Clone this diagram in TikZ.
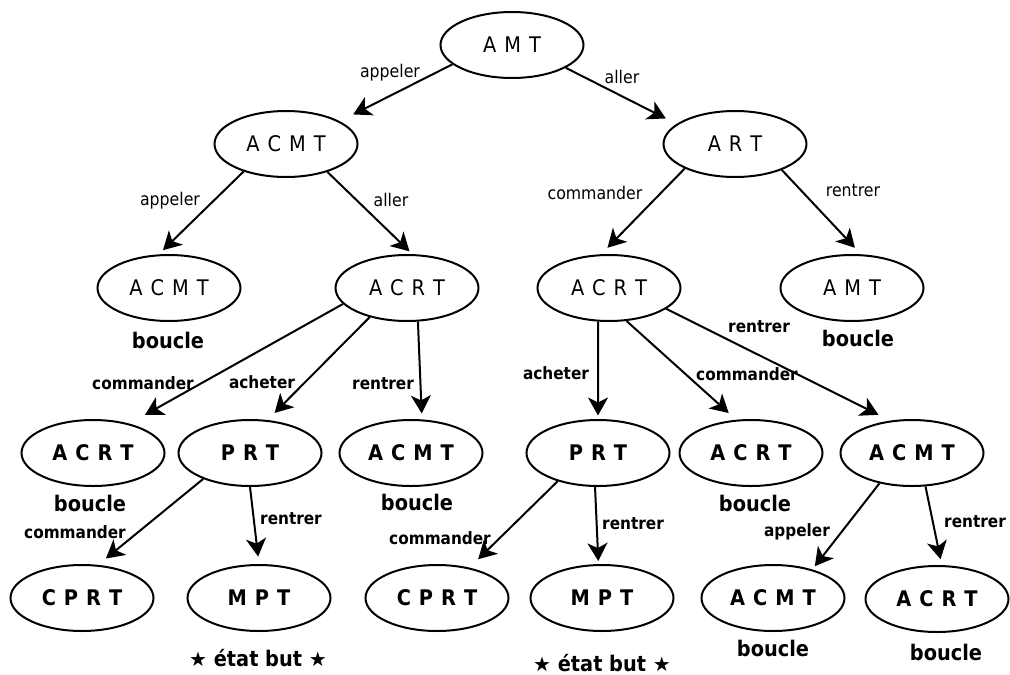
\documentclass[tikz,border=0pt]{standalone}
\usepackage{fontspec}
\setmainfont{DejaVu Sans Condensed}
\newfontfamily\starfont{DejaVu Sans}
\usetikzlibrary{arrows.meta,shapes.geometric}

\tikzset{
  state/.style={draw, line width=2pt, ellipse, minimum width=143pt, minimum height=66pt,
    inner sep=0pt, font=\fontsize{21.5}{24}\selectfont,
    execute at begin node={\spaceskip=8pt\relax}},
  bstate/.style={state, font=\fontsize{21.5}{24}\selectfont\bfseries},
  lab/.style={inner sep=0pt, font=\fontsize{17.5}{20}\selectfont},
  blab/.style={inner sep=0pt, font=\fontsize{17}{20}\selectfont\bfseries},
  note/.style={inner sep=0pt, font=\fontsize{21.5}{24}\selectfont\bfseries},
  edge/.style={line width=2pt, -{Stealth[length=18pt,width=20pt,inset=5pt]}},
}
\newcommand\goalstar{{\starfont\fontsize{20}{22}\selectfont ★}}

\begin{document}
\begin{tikzpicture}[x=1pt, y=-1pt]
\useasboundingbox (0,0) rectangle (1010,675);

% search tree states
\node[state]  (n0)  at (512,45)  {A M T};
\node[state]  (n1)  at (286,144) {A C M T};
\node[state]  (n2)  at (735,144) {A R T};
\node[state]  (n3)  at (169,288) {A C M T};
\node[state]  (n4)  at (407,288) {A C R T};
\node[state]  (n5)  at (609,288) {A C R T};
\node[state]  (n6)  at (852,288) {A M T};
\node[bstate] (n7)  at (93,453)  {A C R T};
\node[bstate] (n8)  at (250,453) {P R T};
\node[bstate] (n9)  at (411,453) {A C M T};
\node[bstate] (n10) at (598,453) {P R T};
\node[bstate] (n11) at (751,453) {A C R T};
\node[bstate] (n12) at (912,453) {A C M T};
\node[bstate] (n13) at (82,598)  {C P R T};
\node[bstate] (n14) at (259,598) {M P T};
\node[bstate] (n15) at (437,598) {C P R T};
\node[bstate] (n16) at (602,598) {M P T};
\node[bstate] (n17) at (773,598) {A C M T};
\node[bstate] (n18) at (937,599) {A C R T};

% notes under the leaves
\node[note] (b3)  at (168,340) {boucle};
\node[note] (b6)  at (858,338) {boucle};
\node[note] (b7)  at (90,503)  {boucle};
\node[note] (b9)  at (417,502) {boucle};
\node[note] (b11) at (755,503) {boucle};
\node[note] (b17) at (773,648) {boucle};
\node[note] (b18) at (946,652) {boucle};
\node[note] (g14) at (258,658) {\goalstar{} état but \goalstar};
\node[note] (g16) at (602,663) {\goalstar{} état but \goalstar};

% transitions
\draw[edge, shorten >=15pt]  (n0.198)  -- (n1.23);
\draw[edge, shorten >=12pt]  (n0.337)  -- (n2.161);
\draw[edge, shorten >=6pt]   (n1.213)  -- (n3.107);
\draw[edge, shorten >=4pt]   (n1.326)  -- (n4.81);
\draw[edge, shorten >=9pt]   (n2.206)  -- (n5.103);
\draw[edge, shorten >=9pt]   (n2.331)  -- (n6.75);
\draw[edge, shorten >=18pt]  (n4.194)  -- (n7.39);
\draw[edge, shorten >=10pt]  (n4.218)  -- (n8.62);
\draw[edge, shorten >=6pt]   (n4.288)  -- (n9.72);
\draw[edge, shorten >=3.5pt] (n5.252)  -- (n10.90);
\draw[edge, shorten >=10pt]  (n5.298)  -- (n11.114);
\draw[edge, shorten >=13pt]  (n5.340)  -- (n12.124);
\draw[edge, shorten >=10pt]  (n8.209)  -- (n13.64);
\draw[edge, shorten >=7.5pt] (n8.270)  -- (n14.90);
\draw[edge, shorten >=12pt]  (n10.215) -- (n15.43);
\draw[edge, shorten >=3pt]   (n10.265) -- (n16.96);
\draw[edge, shorten >=4pt]   (n12.223) -- (n17.36);
\draw[edge, shorten >=6pt]   (n12.292) -- (n18.82);

% transition labels
\node[lab]  (t1)  at (390,73)  {appeler};
\node[lab]  (t2)  at (622,77)  {aller};
\node[lab]  (t3)  at (170,201) {appeler};
\node[lab]  (t4)  at (391,200) {aller};
\node[lab]  (t5)  at (595,193) {commander};
\node[lab]  (t6)  at (853,190) {rentrer};
\node[blab] (t7)  at (143,383) {commander};
\node[blab] (t8)  at (262,382) {acheter};
\node[blab] (t9)  at (383,384) {rentrer};
\node[blab] (t10) at (556,373) {acheter};
\node[blab] (t11) at (747,374) {commander};
\node[blab] (t12) at (759,327) {rentrer};
\node[blab] (t13) at (75,532)  {commander};
\node[blab] (t14) at (291,519) {rentrer};
\node[blab] (t15) at (440,538) {commander};
\node[blab] (t16) at (633,524) {rentrer};
\node[blab] (t17) at (797,532) {appeler};
\node[blab] (t18) at (975,522) {rentrer};
\end{tikzpicture}
\end{document}
